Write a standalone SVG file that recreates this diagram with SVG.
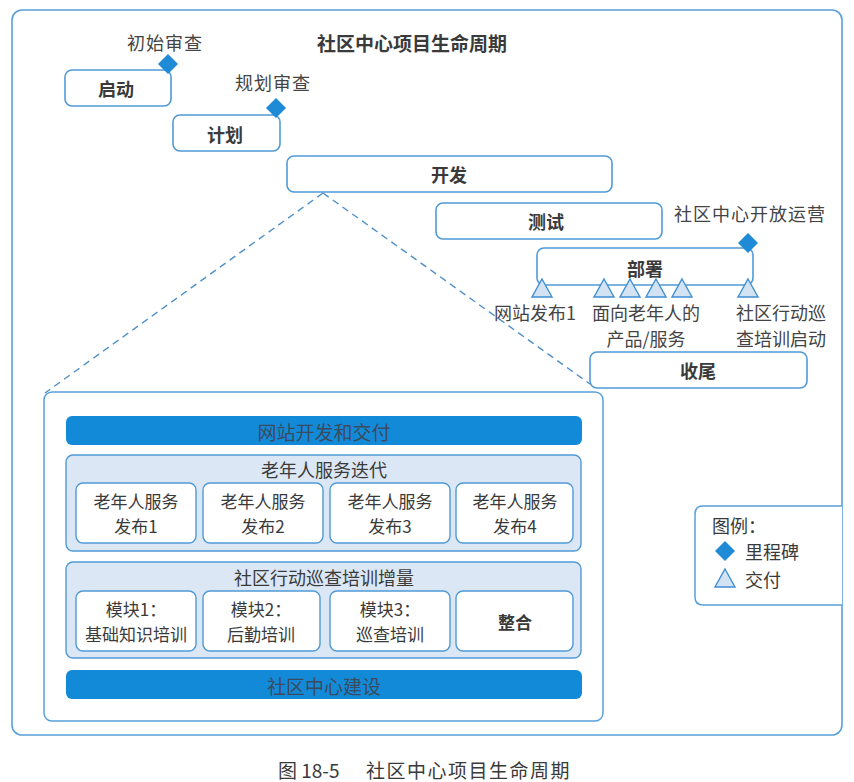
<svg xmlns="http://www.w3.org/2000/svg" width="854" height="782" viewBox="0 0 854 782">
  <defs>
    <style>
      text { font-family: "Noto Sans CJK SC", "Noto Sans", sans-serif; fill: #3a3a3a; }
      .phase { fill: #ffffff; stroke: #4f9ad6; stroke-width: 1.6; }
      .phase-label { font-size: 18px; font-weight: bold; text-anchor: middle; dominant-baseline: central; }
      .note { font-size: 18px; text-anchor: middle; dominant-baseline: central; fill: #444; }
      .milestone { fill: #1f8ad6; }
      .delivery { fill: #d4e3f3; stroke: #3f8fd2; stroke-width: 1.4; }
      .bar { fill: #138ad8; }
      .bar-label { font-size: 19px; text-anchor: middle; dominant-baseline: central; fill: #3b4a5e; }
      .group { fill: #dbe7f4; stroke: #4f9ad6; stroke-width: 1.4; }
      .item { fill: #ffffff; stroke: #4f9ad6; stroke-width: 1.4; }
      .item-label { font-size: 17px; text-anchor: middle; dominant-baseline: central; fill: #3a3a3a; }
      .group-label { font-size: 18px; text-anchor: middle; dominant-baseline: central; fill: #3a3a3a; }
      .dash { fill: none; stroke: #4f8fc8; stroke-width: 1.4; stroke-dasharray: 7 5; }
    </style>
  </defs>

  <rect width="854" height="782" fill="#ffffff"/>

  <!-- outer frame -->
  <rect x="12" y="10" width="830" height="725" rx="10" fill="none" stroke="#5aa0dc" stroke-width="1.6"/>

  <!-- title -->
  <text x="412" y="42" font-size="19" font-weight="bold" text-anchor="middle" dominant-baseline="central" fill="#333">社区中心项目生命周期</text>

  <!-- connectors: zoom-out of the development phase -->
  <g id="connectors">
    <line class="dash" x1="323" y1="193" x2="45" y2="393"/>
    <line class="dash" x1="323" y1="193" x2="590" y2="384"/>
  </g>

  <!-- phases -->
  <g id="phase-start">
    <rect class="phase" x="65" y="70" width="106" height="36" rx="7"/>
    <text class="phase-label" x="116" y="88">启动</text>
  </g>
  <g id="phase-plan">
    <rect class="phase" x="173" y="115" width="107" height="36" rx="7"/>
    <text class="phase-label" x="225" y="134">计划</text>
  </g>
  <g id="phase-develop">
    <rect class="phase" x="287" y="156" width="325" height="36" rx="7"/>
    <text class="phase-label" x="449" y="174">开发</text>
  </g>
  <g id="phase-test">
    <rect class="phase" x="436" y="203" width="226" height="36" rx="7"/>
    <text class="phase-label" x="546" y="221">测试</text>
  </g>
  <g id="phase-deploy">
    <rect class="phase" x="537" y="248" width="216" height="37" rx="7"/>
    <text class="phase-label" x="645" y="268">部署</text>
  </g>
  <g id="phase-close">
    <rect class="phase" x="590" y="352" width="217" height="36" rx="7"/>
    <text class="phase-label" x="698" y="370">收尾</text>
  </g>

  <!-- milestones -->
  <g id="milestone-initial-review">
    <polygon class="milestone" points="168,54 178,64 168,74 158,64"/>
    <text class="note" x="165" y="42" letter-spacing="1">初始审查</text>
  </g>
  <g id="milestone-plan-review">
    <polygon class="milestone" points="276,98 286,108 276,118 266,108"/>
    <text class="note" x="273" y="82" letter-spacing="1">规划审查</text>
  </g>
  <g id="milestone-opening">
    <polygon class="milestone" points="748,233 758,243 748,253 738,243"/>
    <text class="note" x="750" y="213" letter-spacing="1">社区中心开放运营</text>
  </g>

  <!-- deliveries -->
  <g id="deliveries">
    <polygon class="delivery" points="542,279 552,297 532,297"/>
    <polygon class="delivery" points="604,279 614,297 594,297"/>
    <polygon class="delivery" points="630,279 640,297 620,297"/>
    <polygon class="delivery" points="656,279 666,297 646,297"/>
    <polygon class="delivery" points="682,279 692,297 672,297"/>
    <polygon class="delivery" points="748,279 758,297 738,297"/>
    <text class="note" x="535" y="312">网站发布1</text>
    <text class="note" x="646" y="312">面向老年人的</text>
    <text class="note" x="646" y="338">产品/服务</text>
    <text class="note" x="781" y="312">社区行动巡</text>
    <text class="note" x="781" y="338">查培训启动</text>
  </g>

  <!-- development detail -->
  <g id="development-detail">
    <rect x="44" y="392" width="559" height="329" rx="8" fill="#ffffff" stroke="#5aa0dc" stroke-width="1.5"/>

    <g id="bar-website">
      <rect class="bar" x="66" y="416" width="516" height="29" rx="6"/>
      <text class="bar-label" x="324" y="431">网站开发和交付</text>
    </g>

    <g id="group-elder-service">
      <rect class="group" x="66" y="455" width="515" height="96" rx="7"/>
      <text class="group-label" x="324" y="469">老年人服务迭代</text>
      <g id="release-1">
        <rect class="item" x="76" y="483" width="120" height="60" rx="7"/>
        <text class="item-label" x="136" y="500">老年人服务</text>
        <text class="item-label" x="136" y="525">发布1</text>
      </g>
      <g id="release-2">
        <rect class="item" x="203" y="483" width="120" height="60" rx="7"/>
        <text class="item-label" x="263" y="500">老年人服务</text>
        <text class="item-label" x="263" y="525">发布2</text>
      </g>
      <g id="release-3">
        <rect class="item" x="330" y="483" width="120" height="60" rx="7"/>
        <text class="item-label" x="390" y="500">老年人服务</text>
        <text class="item-label" x="390" y="525">发布3</text>
      </g>
      <g id="release-4">
        <rect class="item" x="456" y="483" width="117" height="60" rx="7"/>
        <text class="item-label" x="515" y="500">老年人服务</text>
        <text class="item-label" x="515" y="525">发布4</text>
      </g>
    </g>

    <g id="group-patrol-training">
      <rect class="group" x="66" y="562" width="515" height="96" rx="7"/>
      <text class="group-label" x="324" y="577">社区行动巡查培训增量</text>
      <g id="module-1">
        <rect class="item" x="76" y="591" width="120" height="60" rx="7"/>
        <text class="item-label" x="136" y="608">模块1：</text>
        <text class="item-label" x="136" y="633">基础知识培训</text>
      </g>
      <g id="module-2">
        <rect class="item" x="203" y="591" width="117" height="60" rx="7"/>
        <text class="item-label" x="261" y="608">模块2：</text>
        <text class="item-label" x="261" y="633">后勤培训</text>
      </g>
      <g id="module-3">
        <rect class="item" x="330" y="591" width="120" height="60" rx="7"/>
        <text class="item-label" x="390" y="608">模块3：</text>
        <text class="item-label" x="390" y="633">巡查培训</text>
      </g>
      <g id="module-integrate">
        <rect class="item" x="456" y="591" width="117" height="60" rx="7"/>
        <text class="item-label" x="515" y="621" font-size="18" font-weight="bold">整合</text>
      </g>
    </g>

    <g id="bar-center">
      <rect class="bar" x="66" y="670" width="516" height="29" rx="6"/>
      <text class="bar-label" x="324" y="685">社区中心建设</text>
    </g>
  </g>

  <!-- legend -->
  <g id="legend">
    <path d="M842,506 H703 Q695,506 695,514 V597 Q695,605 703,605 H842" fill="#ffffff" stroke="#5aa0dc" stroke-width="1.5"/>
    <text x="712" y="525" font-size="18" dominant-baseline="central">图例：</text>
    <polygon class="milestone" points="725,541 735,551 725,561 715,551"/>
    <text x="745" y="551" font-size="18" dominant-baseline="central">里程碑</text>
    <polygon class="delivery" points="725,569 735,587 715,587"/>
    <text x="745" y="579" font-size="18" dominant-baseline="central">交付</text>
  </g>

  <!-- caption -->
  <g id="caption" font-size="19" fill="#444">
    <text x="278" y="769" dominant-baseline="central" font-family="Liberation Serif, Noto Sans CJK SC, serif">图 18-5</text>
    <text x="366" y="769" dominant-baseline="central" letter-spacing="1.5">社区中心项目生命周期</text>
  </g>
</svg>
